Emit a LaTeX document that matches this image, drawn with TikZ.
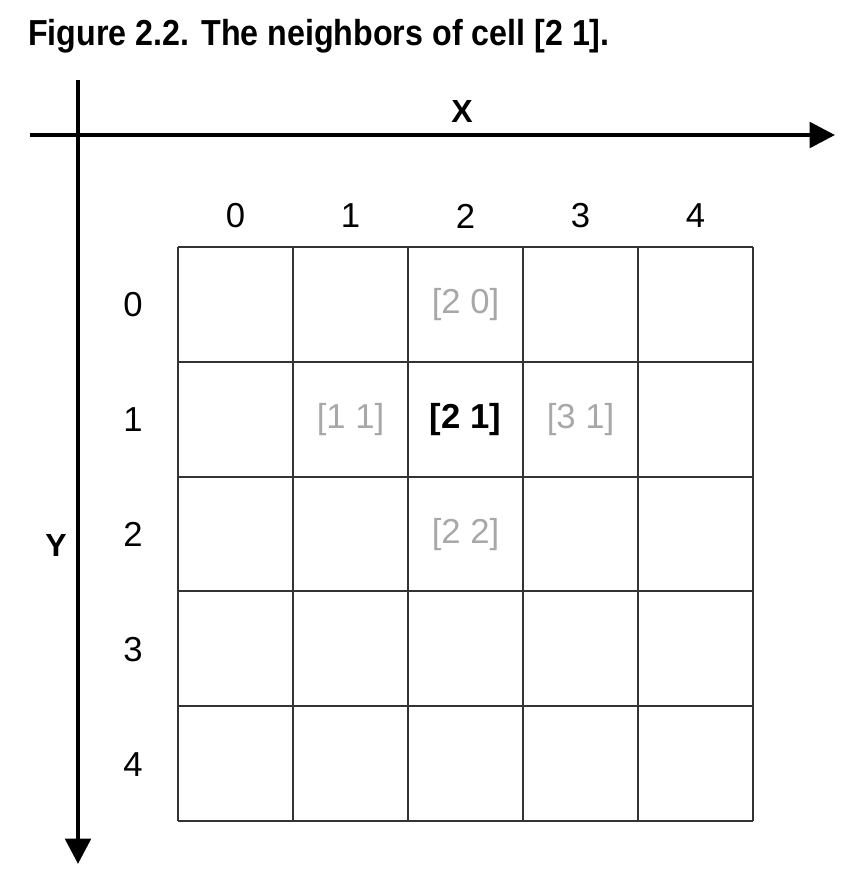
\documentclass[tikz,border=0pt]{standalone}
\usepackage{fontspec}
\setmainfont{Liberation Sans}
\usetikzlibrary{arrows.meta}
\definecolor{nbgray}{HTML}{A8A8A8}
\definecolor{gridgray}{HTML}{333333}
\tikzset{
  axisline/.style={line width=3.2pt, -{Triangle[length=19pt,width=19pt]}},
  gridline/.style={line width=1.6pt, draw=gridgray},
  lbl/.style={font=\fontsize{26}{30}\selectfont, inner sep=0pt},
  nb/.style={lbl, text=nbgray},
  axlbl/.style={font=\fontsize{24}{28}\selectfont\bfseries, inner sep=0pt},
}
\begin{document}
\begin{tikzpicture}[x=0.75pt,y=-0.75pt]
\useasboundingbox (0,0) rectangle (856,894);
% title
\node[anchor=base west, inner sep=0pt, font=\fontsize{24}{28}\selectfont\bfseries] (title) at (28,45) {\resizebox{436pt}{1.13\height}{Figure 2.2. The neighbors of cell [2 1].}};
% axes
\coordinate (xs) at (30,135);
\coordinate (xe) at (835,135);
\coordinate (ys) at (78,80);
\coordinate (ye) at (78,864);
\draw[axisline] (xs) -- (xe);
\draw[axisline] (ys) -- (ye);
\node[axlbl] (X) at (462,111) {X};
\node[axlbl] (Y) at (56,545) {Y};
% grid
\foreach \i in {0,...,5} {
  \pgfmathsetmacro{\xx}{178+115*\i}
  \draw[gridline] (\xx,247) -- (\xx,821);
  \draw[gridline] (178,{247+114.8*\i}) -- (753,{247+114.8*\i});
}
% column and row labels
\foreach \i in {0,...,4} {
  \node[lbl] (c\i) at ({235.5+115*\i},216) {\i};
  \node[lbl] (r\i) at (133,{305+114.8*\i}) {\i};
}
% cell labels
\node[nb] (n20) at (465.5,305) {[2 0]};
\node[nb] (n11) at (350.5,420) {[1 1]};
\node[lbl, font=\fontsize{26}{30}\selectfont\bfseries] (n21) at (465.5,420) {[2 1]};
\node[nb] (n31) at (580.5,420) {[3 1]};
\node[nb] (n22) at (465.5,535) {[2 2]};
\end{tikzpicture}
\end{document}
